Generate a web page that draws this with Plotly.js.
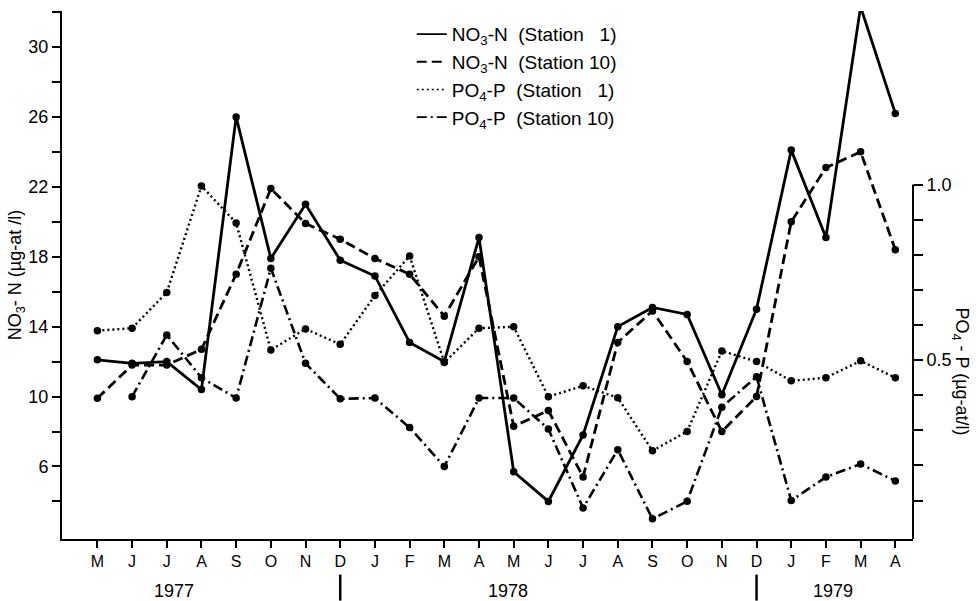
<!DOCTYPE html>
<html>
<head>
<meta charset="utf-8">
<script src="https://cdn.plot.ly/plotly-3.0.1.min.js"></script>
<style>
  html, body { margin: 0; padding: 0; background: #fff; }
  #chart { width: 976px; height: 601px; }
</style>
</head>
<body>
<div id="chart"></div>
<script>
// Month sequence: May 1977 .. April 1979
const monthLabels = ['M','J','J','A','S','O','N','D','J','F','M','A','M','J','J','A','S','O','N','D','J','F','M','A'];
const monthIndex = monthLabels.map((m, i) => i);

// NO3-N (µg-at/l), left axis
const no3Station1  = [12.1, 11.9, 12.0, 10.4, 26.0, 17.9, 21.0, 17.8, 16.9, 13.1, 12.0, 19.1, 5.7, 4.0, 7.8, 14.0, 15.1, 14.7, 10.1, 15.0, 24.1, 19.1, 32.3, 26.2];
const no3Station10 = [9.9, 11.8, 11.8, 12.7, 17.0, 21.9, 19.9, 19.0, 17.9, 17.0, 14.6, 18.0, 8.3, 9.2, 5.4, 13.1, 14.9, 12.0, 8.0, 10.0, 20.0, 23.1, 24.0, 18.4];

// PO4-P (µg-at/l), right axis
const po4Station1  = [0.584, 0.591, 0.693, 0.996, 0.891, 0.529, 0.589, 0.545, 0.684, 0.797, 0.493, 0.591, 0.595, 0.396, 0.427, 0.393, 0.242, 0.297, 0.526, 0.496, 0.441, 0.450, 0.498, 0.450];
const po4Station10 = [null, 0.396, 0.572, 0.450, 0.392, 0.762, 0.491, 0.390, 0.392, 0.308, 0.197, 0.392, 0.392, 0.304, 0.079, 0.245, 0.048, 0.098, 0.366, 0.453, 0.100, 0.167, 0.204, 0.156];

// Axis ticks
const leftTickVals   = [6, 10, 14, 18, 22, 26, 30];
const leftMinorVals  = [4, 8, 12, 16, 20, 24, 28, 32];
const rightTickVals  = [0.5, 1.0];
const rightTickText  = ['0.5', '1.0'];
const rightMinorVals = [0.1, 0.2, 0.3, 0.4, 0.6, 0.7, 0.8, 0.9];

// Year labels and year separators (positions in month-index units)
const yearLabels = ['1977', '1978', '1979'];
const yearLabelPos = [2.2, 11.85, 21.2];
const yearSeparatorPos = [7, 19];

const FONT = 'Liberation Sans, Arial, Helvetica, sans-serif';
const BLACK = '#000';

const seriesNames = [
  'NO<sub>3</sub>-N\u00A0\u00A0(Station\u00A0\u00A0\u00A01)',
  'NO<sub>3</sub>-N\u00A0\u00A0(Station 10)',
  'PO<sub>4</sub>-P\u00A0\u00A0(Station\u00A0\u00A0\u00A01)',
  'PO<sub>4</sub>-P\u00A0\u00A0(Station 10)'
];
const dashes = ['solid', '10px,5px', '2px,3px', '10px,4px,2px,4px'];
const widths = [2.8, 2.8, 2.4, 2.6];

function dataTrace(y, k, axis) {
  return {
    x: monthIndex, y: y, yaxis: axis, type: 'scatter', mode: 'lines+markers',
    line: { color: BLACK, width: widths[k], dash: dashes[k] },
    marker: { color: BLACK, size: 7.5 },
    showlegend: false, cliponaxis: false, connectgaps: false, hoverinfo: 'skip'
  };
}
function legendTrace(k, axis) {
  return {
    x: [null], y: [null], yaxis: axis, type: 'scatter', mode: 'lines',
    name: seriesNames[k], legendgroup: 'g' + k,
    line: { color: BLACK, width: widths[k] - 1, dash: dashes[k] },
    showlegend: true, hoverinfo: 'skip'
  };
}

const traces = [
  dataTrace(no3Station1, 0, 'y'),
  dataTrace(no3Station10, 1, 'y'),
  dataTrace(po4Station1, 2, 'y2'),
  dataTrace(po4Station10, 3, 'y2'),
  legendTrace(0, 'y'), legendTrace(1, 'y'), legendTrace(2, 'y2'), legendTrace(3, 'y2')
];

const annotations = yearLabels.map((t, i) => ({
  text: t, x: yearLabelPos[i], xref: 'x', y: -0.0988, yref: 'paper',
  showarrow: false, font: { family: FONT, size: 18, color: BLACK },
  xanchor: 'center', yanchor: 'middle'
}));
annotations.push({
  text: 'PO<sub>4</sub> - P (µg-at/l)', textangle: 90,
  x: 1.056, xref: 'paper', y: 0.318, yref: 'paper',
  showarrow: false, font: { family: FONT, size: 18, color: BLACK },
  xanchor: 'center', yanchor: 'middle'
});

const shapes = yearSeparatorPos.map(p => ({
  type: 'line', xref: 'x', yref: 'paper', x0: p, x1: p, y0: -0.0675, y1: -0.1167,
  line: { color: BLACK, width: 2.5 }
}));
// right axis spine: drawn only from the bottom up to 1.0
shapes.push({
  type: 'line', xref: 'paper', yref: 'y2', x0: 1, x1: 1, y0: -0.0094, y1: 1.0,
  line: { color: BLACK, width: 2 }
});

const layout = {
  width: 976, height: 601,
  margin: { l: 62.3, r: 62.7, t: 10.7, b: 61.7, pad: 0 },
  paper_bgcolor: '#fff', plot_bgcolor: '#fff',
  font: { family: FONT, size: 16, color: BLACK },
  showlegend: true,
  legend: {
    x: 0.411, y: 0.992, xanchor: 'left', yanchor: 'top',
    bgcolor: 'rgba(0,0,0,0)', borderwidth: 0,
    font: { family: FONT, size: 19, color: BLACK },
    tracegroupgap: 0, itemwidth: 30
  },
  xaxis: {
    range: [-1.02, 23.51], tickmode: 'array', tickvals: monthIndex, ticktext: monthLabels,
    showline: true, linecolor: BLACK, linewidth: 2, mirror: false,
    ticks: 'outside', ticklen: 7, tickwidth: 2, tickcolor: BLACK,
    showgrid: false, zeroline: false,
    tickfont: { family: FONT, size: 16, color: BLACK }
  },
  yaxis: {
    range: [1.85, 32.06], tickmode: 'array', tickvals: leftTickVals,
    showline: true, linecolor: BLACK, linewidth: 2,
    ticks: 'outside', ticklen: 8, tickwidth: 2, tickcolor: BLACK,
    minor: { tickmode: 'array', tickvals: leftMinorVals, ticks: 'outside', ticklen: 8, tickwidth: 2, tickcolor: BLACK, showgrid: false },
    showgrid: false, zeroline: false,
    tickfont: { family: FONT, size: 18, color: BLACK },
    title: { text: 'NO<sub>3</sub>- N (µg-at /l)', standoff: 2, font: { family: FONT, size: 18, color: BLACK } }
  },
  yaxis2: {
    overlaying: 'y', side: 'right',
    range: [-0.0094, 1.4945], tickmode: 'array', tickvals: rightTickVals, ticktext: rightTickText,
    showline: false,
    ticks: 'outside', ticklen: 9, tickwidth: 2, tickcolor: BLACK,
    minor: { tickmode: 'array', tickvals: rightMinorVals, ticks: 'outside', ticklen: 9, tickwidth: 2, tickcolor: BLACK, showgrid: false },
    showgrid: false, zeroline: false,
    tickfont: { family: FONT, size: 18, color: BLACK }
  },
  annotations: annotations,
  shapes: shapes
};

Plotly.newPlot('chart', traces, layout, { staticPlot: true, displayModeBar: false });
</script>
</body>
</html>
